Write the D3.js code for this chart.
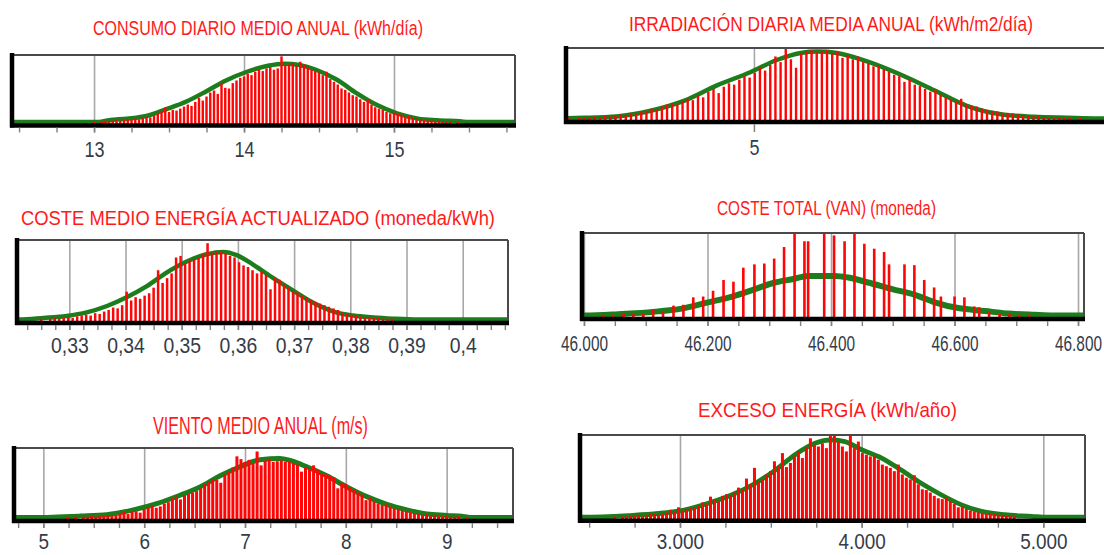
<!DOCTYPE html>
<html><head><meta charset="utf-8">
<script src="https://cdn.jsdelivr.net/npm/d3@7"></script>
<style>body{margin:0;background:#fff}svg{display:block}</style>
</head><body><svg id="c" width="1104" height="555"></svg>
<script>
// ---------------- DATA ----------------
// 1) Consumo diario medio anual (kWh/día)
const consumoTitle = "CONSUMO DIARIO MEDIO ANUAL (kWh/día)";
const consumoBinStart = 13.0, consumoBinWidth = 0.025;
const consumoBars = [1,0,1,2,1,2,3,2,3,4, 4,5,4,6,8,7,10,12,16,22, 15,18,17,20,23,26,24,30,36,32,
  38,44,47,42,58,51,50,58,62,66, 68,72,70,75,78,76,80,82,78,80, 98,84,86,88,85,90,86,81,78,76,
  74,70,75,64,60,56,50,48,44,40, 38,34,30,33,26,22,20,18,15,13, 14,12,11,8,9,6,5,4,3,2, 2,1,2,1,1,1,0,1,0,0];
const consumoCurve = [[12.453,0],[13.03,0],[13.1,2.5],[13.22,5],[13.35,9],[13.48,19],[13.62,31],[13.75,46],[13.88,62],
  [14.02,75],[14.16,84],[14.27,87],[14.37,85],[14.48,78],[14.62,63],[14.75,43],[14.88,26],[15.02,13],[15.16,5],
  [15.29,2.5],[15.44,1],[15.5,0],[15.807,0]];
const consumoTicks = [13,14,15];
const consumoTickLabels = ["13","14","15"];

// 2) Irradiación diaria media anual (kWh/m2/día)
const irradTitle = "IRRADIACIÓN DIARIA MEDIA ANUAL (kWh/m2/día)";
const irradBinStart = 4.57, irradBinWidth = 0.012;
const irradBars = [1,0,2,1,2, 3,2,4,3,5, 6,5,8,7,10, 11,14,13,17,20, 22,20,25,28,26, 33,30,38,42,36,
  45,50,48,55,60, 58,65,72,68,76, 88,80,100,84,72, 92,95,97,94,96, 97,93,95,86,90, 84,88,80,78,74,
  75,70,66,62,60, 52,55,48,46,42, 38,40,34,30,28, 24,28,20,18,17, 14,12,11,10,8, 8,7,6,5,4, 3,4,2,2,1, 2,1,1,0,1];
const irradCurve = [[4.565,0.5],[4.605,1],[4.681,3],[4.760,11],[4.837,25],[4.914,47],[4.993,66],[5.053,83],
  [5.109,93],[5.147,95],[5.193,93],[5.263,81],[5.342,62],[5.419,40],[5.495,18],[5.574,6],[5.651,2.4],[5.728,1],[5.8,0],[5.9,0]];
const irradTicks = [5];
const irradTickLabels = ["5"];

// 3) Coste medio energía actualizado (moneda/kWh)
const costeMedioTitle = "COSTE MEDIO ENERGÍA ACTUALIZADO (moneda/kWh)";
const costeMedioBinStart = 0.325, costeMedioBinWidth = 0.0008;
const costeMedioBars = [1,0,1,2,1, 2,3,2,4,5, 6,5,8,7,10, 12,15,14,18,35, 24,28,26,30,33, 40,62,46,52,58,
  78,80,70,74,76, 78,82,96,84,86, 85,83,80,78,72, 68,66,62,58,60, 56,38,52,50,44, 40,36,34,30,28,
  25,22,20,18,16, 14,12,9,8,6, 5,4,3,3,2, 2,1,1,1,0];
const costeMedioCurve = [[0.32069,0],[0.3212,0],[0.3254,2],[0.3295,4.5],[0.3331,9],[0.3367,17],[0.3402,28],[0.3438,42],
  [0.3473,59],[0.3509,73],[0.3544,82],[0.3574,85],[0.3598,81],[0.3627,69],[0.3663,52],[0.3699,36],[0.3734,21],
  [0.377,10],[0.3805,5],[0.3841,2.5],[0.3877,1],[0.392,0],[0.40806,0]];
const costeMedioTicks = [0.33,0.34,0.35,0.36,0.37,0.38,0.39,0.40];
const costeMedioTickLabels = ["0,33","0,34","0,35","0,36","0,37","0,38","0,39","0,4"];

// 4) Coste total (VAN) (moneda)
const costeTotalTitle = "COSTE TOTAL (VAN) (moneda)";
const costeTotalBarX = [46031,46047,46064,46080,46096,46112,46128,46145,46161,46177,46193,46209,46226,46242,46258,
  46276,46292,46308,46324,46341,46357,46363,46389,46405,46422,46438,46454,46470,46486,46494,46519,46535,46551,
  46567,46578,46600,46616,46632,46640,46656,46673,46689,46705,46721];
const costeTotalBars = [1,1,2,2,2,7,4,12,13,22,23,30,43,41,58,62,63,69,83,99,90,90,99,97,90,99,87,81,77,62,
  62,61,43,34,23,23,22,11,10,4,2,2,1,1];
const costeTotalCurve = [[45996.8,0],[46002,0],[46055,1.6],[46120,5],[46163,9],[46201,16],[46240,23],[46277,32],
  [46309,40],[46337,44],[46363,48],[46406,48],[46428,46],[46460,40],[46499,32],[46536,25],[46568,16],[46606,9],
  [46649,5.5],[46687,2.4],[46730,0.8],[46760,0],[46809.7,0]];
const costeTotalTicks = [46000,46200,46400,46600,46800];
const costeTotalTickLabels = ["46.000","46.200","46.400","46.600","46.800"];

// 5) Viento medio anual (m/s)
const vientoTitle = "VIENTO MEDIO ANUAL (m/s)";
const vientoBinStart = 5.2, vientoBinWidth = 0.04;
const vientoBars = [0,1,0,1,0, 1,1,2,1,2, 2,3,2,3,5, 8,5,8,9,7, 12,15,18,14,16, 20,22,28,30,26,
  32,35,36,38,42, 48,52,55,54,50, 62,66,72,88,84, 80,83,78,95,75, 82,84,80,81,82, 80,81,78,76,66,
  72,70,75,68,64, 62,60,58,42,50, 48,44,40,36,33, 25,28,24,20,18, 19,16,13,12,10, 9,8,6,6,4,
  5,3,4,2,2, 2,1,1,2,0, 1];
const vientoCurve = [[4.709,0],[4.9,0],[5.364,2],[5.629,4],[5.893,11],[6.125,20],[6.356,32],[6.554,44],[6.753,60],
  [6.951,73],[7.149,83],[7.348,85],[7.447,82],[7.613,73],[7.811,60],[8.010,44],[8.208,30],[8.407,19],[8.605,11],
  [8.804,5],[9.002,3],[9.167,1.5],[9.25,0],[9.658,0]];
const vientoTicks = [5,6,7,8,9];
const vientoTickLabels = ["5","6","7","8","9"];

// 6) Exceso energía (kWh/año)
const excesoTitle = "EXCESO ENERGÍA (kWh/año)";
const excesoBinStart = 2640, excesoBinWidth = 22;
const excesoBars = [1,0,1,1,2, 2,3,1,3,4, 4,3,5,6,9, 7,12,8,10,11, 12,14,18,16,25, 22,20,26,28,27,
  30,36,34,47,40, 60,44,46,52,56, 68,62,78,61,66, 74,80,72,85,96, 88,86,90,84,100, 100,92,86,80,100,
  84,92,78,76,74, 74,70,64,62,60, 56,64,52,48,46, 51,40,34,33,30, 26,23,22,24,20, 16,12,13,10,8,
  7,6,5,4,5, 4,3,3,2,2, 1];
const excesoCurve = [[2449.6,0],[2459,0],[2716,2],[2881,4.5],[3028,9],[3156,17],[3284,27],[3413,41],[3523,57],
  [3633,76],[3743,90],[3835,94],[3908,92],[4000,82],[4110,72],[4220,57],[4330,41],[4440,27],[4550,15],[4660,7],
  [4789,3],[4936,1],[5000,0],[5229.5,0]];
const excesoTicks = [3000,4000,5000];
const excesoTickLabels = ["3.000","4.000","5.000"];

// ---------------- LAYOUT ----------------
const binned = (start, w, arr) => arr.map((h, i) => [start + i * w, h]);
const panels = [
  {title: consumoTitle, bars: binned(consumoBinStart, consumoBinWidth, consumoBars), curve: consumoCurve,
   ticks: consumoTicks, labels: consumoTickLabels, minorStep: 0.25, minorFrom: 12.5, minorTo: 15.75,
   tx0: 93, tx1: 423, tb: 35, ts: 19.5, L: 12, R: 515, T: 55, B: 125.5, d: [12.453, 15.807], r: [12, 515],
   barW: 2.4, curveW: 4.5, lb: 157, sx: 0.82},
  {title: irradTitle, bars: binned(irradBinStart, irradBinWidth, irradBars), curve: irradCurve,
   ticks: irradTicks, labels: irradTickLabels, minorStep: 0,
   tx0: 629, tx1: 1033, tb: 31, ts: 20, L: 566, R: 1112, T: 48, B: 122, d: [4.563, 5.828], r: [566, 1110],
   barW: 2.4, curveW: 4.5, lb: 155, sx: 0.82},
  {title: costeMedioTitle, bars: binned(costeMedioBinStart, costeMedioBinWidth, costeMedioBars), curve: costeMedioCurve,
   ticks: costeMedioTicks, labels: costeMedioTickLabels, minorStep: 0.0025, minorFrom: 0.3225, minorTo: 0.4075,
   tx0: 21, tx1: 495, tb: 225, ts: 19.5, L: 17, R: 508, T: 240, B: 323, d: [0.32069, 0.40806], r: [17, 508],
   barW: 2.5, curveW: 4.5, lb: 353, sx: 0.88},
  {title: costeTotalTitle, bars: costeTotalBarX.map((x, i) => [x, costeTotalBars[i]]), curve: costeTotalCurve,
   ticks: costeTotalTicks, labels: costeTotalTickLabels, minorStep: 50, minorFrom: 46000, minorTo: 46800,
   tx0: 717, tx1: 936, tb: 215, ts: 20, L: 582, R: 1084, T: 233, B: 319, d: [45996.8, 46809.7], r: [582, 1084],
   barW: 2.6, curveW: 6, lb: 351.5, sx: 0.7},
  {title: vientoTitle, bars: binned(vientoBinStart, vientoBinWidth, vientoBars), curve: vientoCurve,
   ticks: vientoTicks, labels: vientoTickLabels, minorStep: 0.25, minorFrom: 4.75, minorTo: 9.5,
   tx0: 153, tx1: 368, tb: 434, ts: 23, L: 14, R: 513, T: 448, B: 521, d: [4.709, 9.658], r: [14, 513],
   barW: 3, curveW: 5, lb: 549.5, sx: 0.86},
  {title: excesoTitle, bars: binned(excesoBinStart, excesoBinWidth, excesoBars), curve: excesoCurve,
   ticks: excesoTicks, labels: excesoTickLabels, minorStep: 250, minorFrom: 2500, minorTo: 5000,
   tx0: 698, tx1: 957, tb: 417, ts: 21, L: 580, R: 1085, T: 435, B: 520.7, d: [2449.6, 5229.5], r: [580, 1085],
   barW: 3, curveW: 4.8, lb: 549.5, sx: 0.86}
];

const svg = d3.select("#c");
svg.append("rect").attr("width", 1104).attr("height", 555).attr("fill", "#fff");
const FONT = "'Liberation Sans', Arial, sans-serif";

panels.forEach(p => {
  const g = svg.append("g");
  const x = d3.scaleLinear().domain(p.d).range(p.r);
  const base = p.B - 3.5;
  const y = d3.scaleLinear().domain([0, 100]).range([base, p.T]);

  // title (centered, compressed to the reference width)
  g.append("text").attr("x", (p.tx0 + p.tx1) / 2).attr("y", p.tb).text(p.title)
    .attr("text-anchor", "middle")
    .attr("font-family", FONT).attr("font-size", p.ts).attr("fill", "#ff1a1a")
    .attr("textLength", p.tx1 - p.tx0).attr("lengthAdjust", "spacingAndGlyphs");

  // plot background
  g.append("rect").attr("x", p.L).attr("y", p.T).attr("width", Math.min(p.R, 1104) - p.L).attr("height", p.B - p.T).attr("fill", "#fff");

  // gridlines
  const grid = g.append("g").attr("transform", `translate(0,${p.B})`)
    .call(d3.axisBottom(x).tickValues(p.ticks).tickSize(-(p.B - p.T)).tickFormat(""));
  grid.select(".domain").remove();
  grid.selectAll("line").attr("stroke", "#a8a8a8").attr("stroke-width", 1.6);

  // fitted curve
  const line = d3.line().x(d => x(d[0])).y(d => y(d[1])).curve(d3.curveMonotoneX);
  g.append("path").datum(p.curve).attr("d", line).attr("fill", "none")
    .attr("stroke", "#1d7d1d").attr("stroke-width", p.curveW).attr("stroke-linejoin", "round");

  // histogram bars
  g.append("g").selectAll("rect").data(p.bars.filter(d => d[1] > 0)).join("rect")
    .attr("x", d => x(d[0]) - p.barW / 2).attr("width", p.barW)
    .attr("y", d => y(d[1])).attr("height", d => base - y(d[1]) + 3)
    .attr("fill", "#ff0505");

  // frame
  const Rv = Math.min(p.R, 1104);
  g.append("line").attr("x1", p.L).attr("x2", Rv).attr("y1", p.T).attr("y2", p.T)
    .attr("stroke", "#4a4a4a").attr("stroke-width", 2);
  if (p.R <= 1104) {
    g.append("line").attr("x1", p.R).attr("x2", p.R).attr("y1", p.T).attr("y2", p.B)
      .attr("stroke", "#4a4a4a").attr("stroke-width", 2);
  }
  g.append("line").attr("x1", p.L - 2).attr("x2", Math.min(p.R + 1, 1104)).attr("y1", p.B).attr("y2", p.B)
    .attr("stroke", "#000").attr("stroke-width", 4.5);
  g.append("line").attr("x1", p.L).attr("x2", p.L).attr("y1", p.T - 2).attr("y2", p.B + 2)
    .attr("stroke", "#000").attr("stroke-width", 4.5);

  // minor ticks
  if (p.minorStep) {
    const minor = d3.range(p.minorFrom, p.minorTo + p.minorStep / 2, p.minorStep);
    const gm = g.append("g").attr("transform", `translate(0,${p.B + 2})`)
      .call(d3.axisBottom(x).tickValues(minor).tickSize(5).tickFormat(""));
    gm.select(".domain").remove();
    gm.selectAll("line").attr("stroke", "#808080").attr("stroke-width", 1.4);
  }
  // major ticks + labels
  const ga = g.append("g").attr("transform", `translate(0,${p.B + 2})`)
    .call(d3.axisBottom(x).tickValues(p.ticks).tickSize(p.minorStep ? 5 : 8).tickFormat((d, i) => p.labels[i]));
  ga.select(".domain").remove();
  ga.selectAll("line").attr("stroke", "#808080").attr("stroke-width", 1.5);
  ga.selectAll("text").attr("y", p.lb - (p.B + 2)).attr("dy", null)
    .attr("font-family", FONT).attr("font-size", 22).attr("fill", "#343c4a")
    .attr("transform", `scale(${p.sx},1)`);
});
</script>
</body></html>
